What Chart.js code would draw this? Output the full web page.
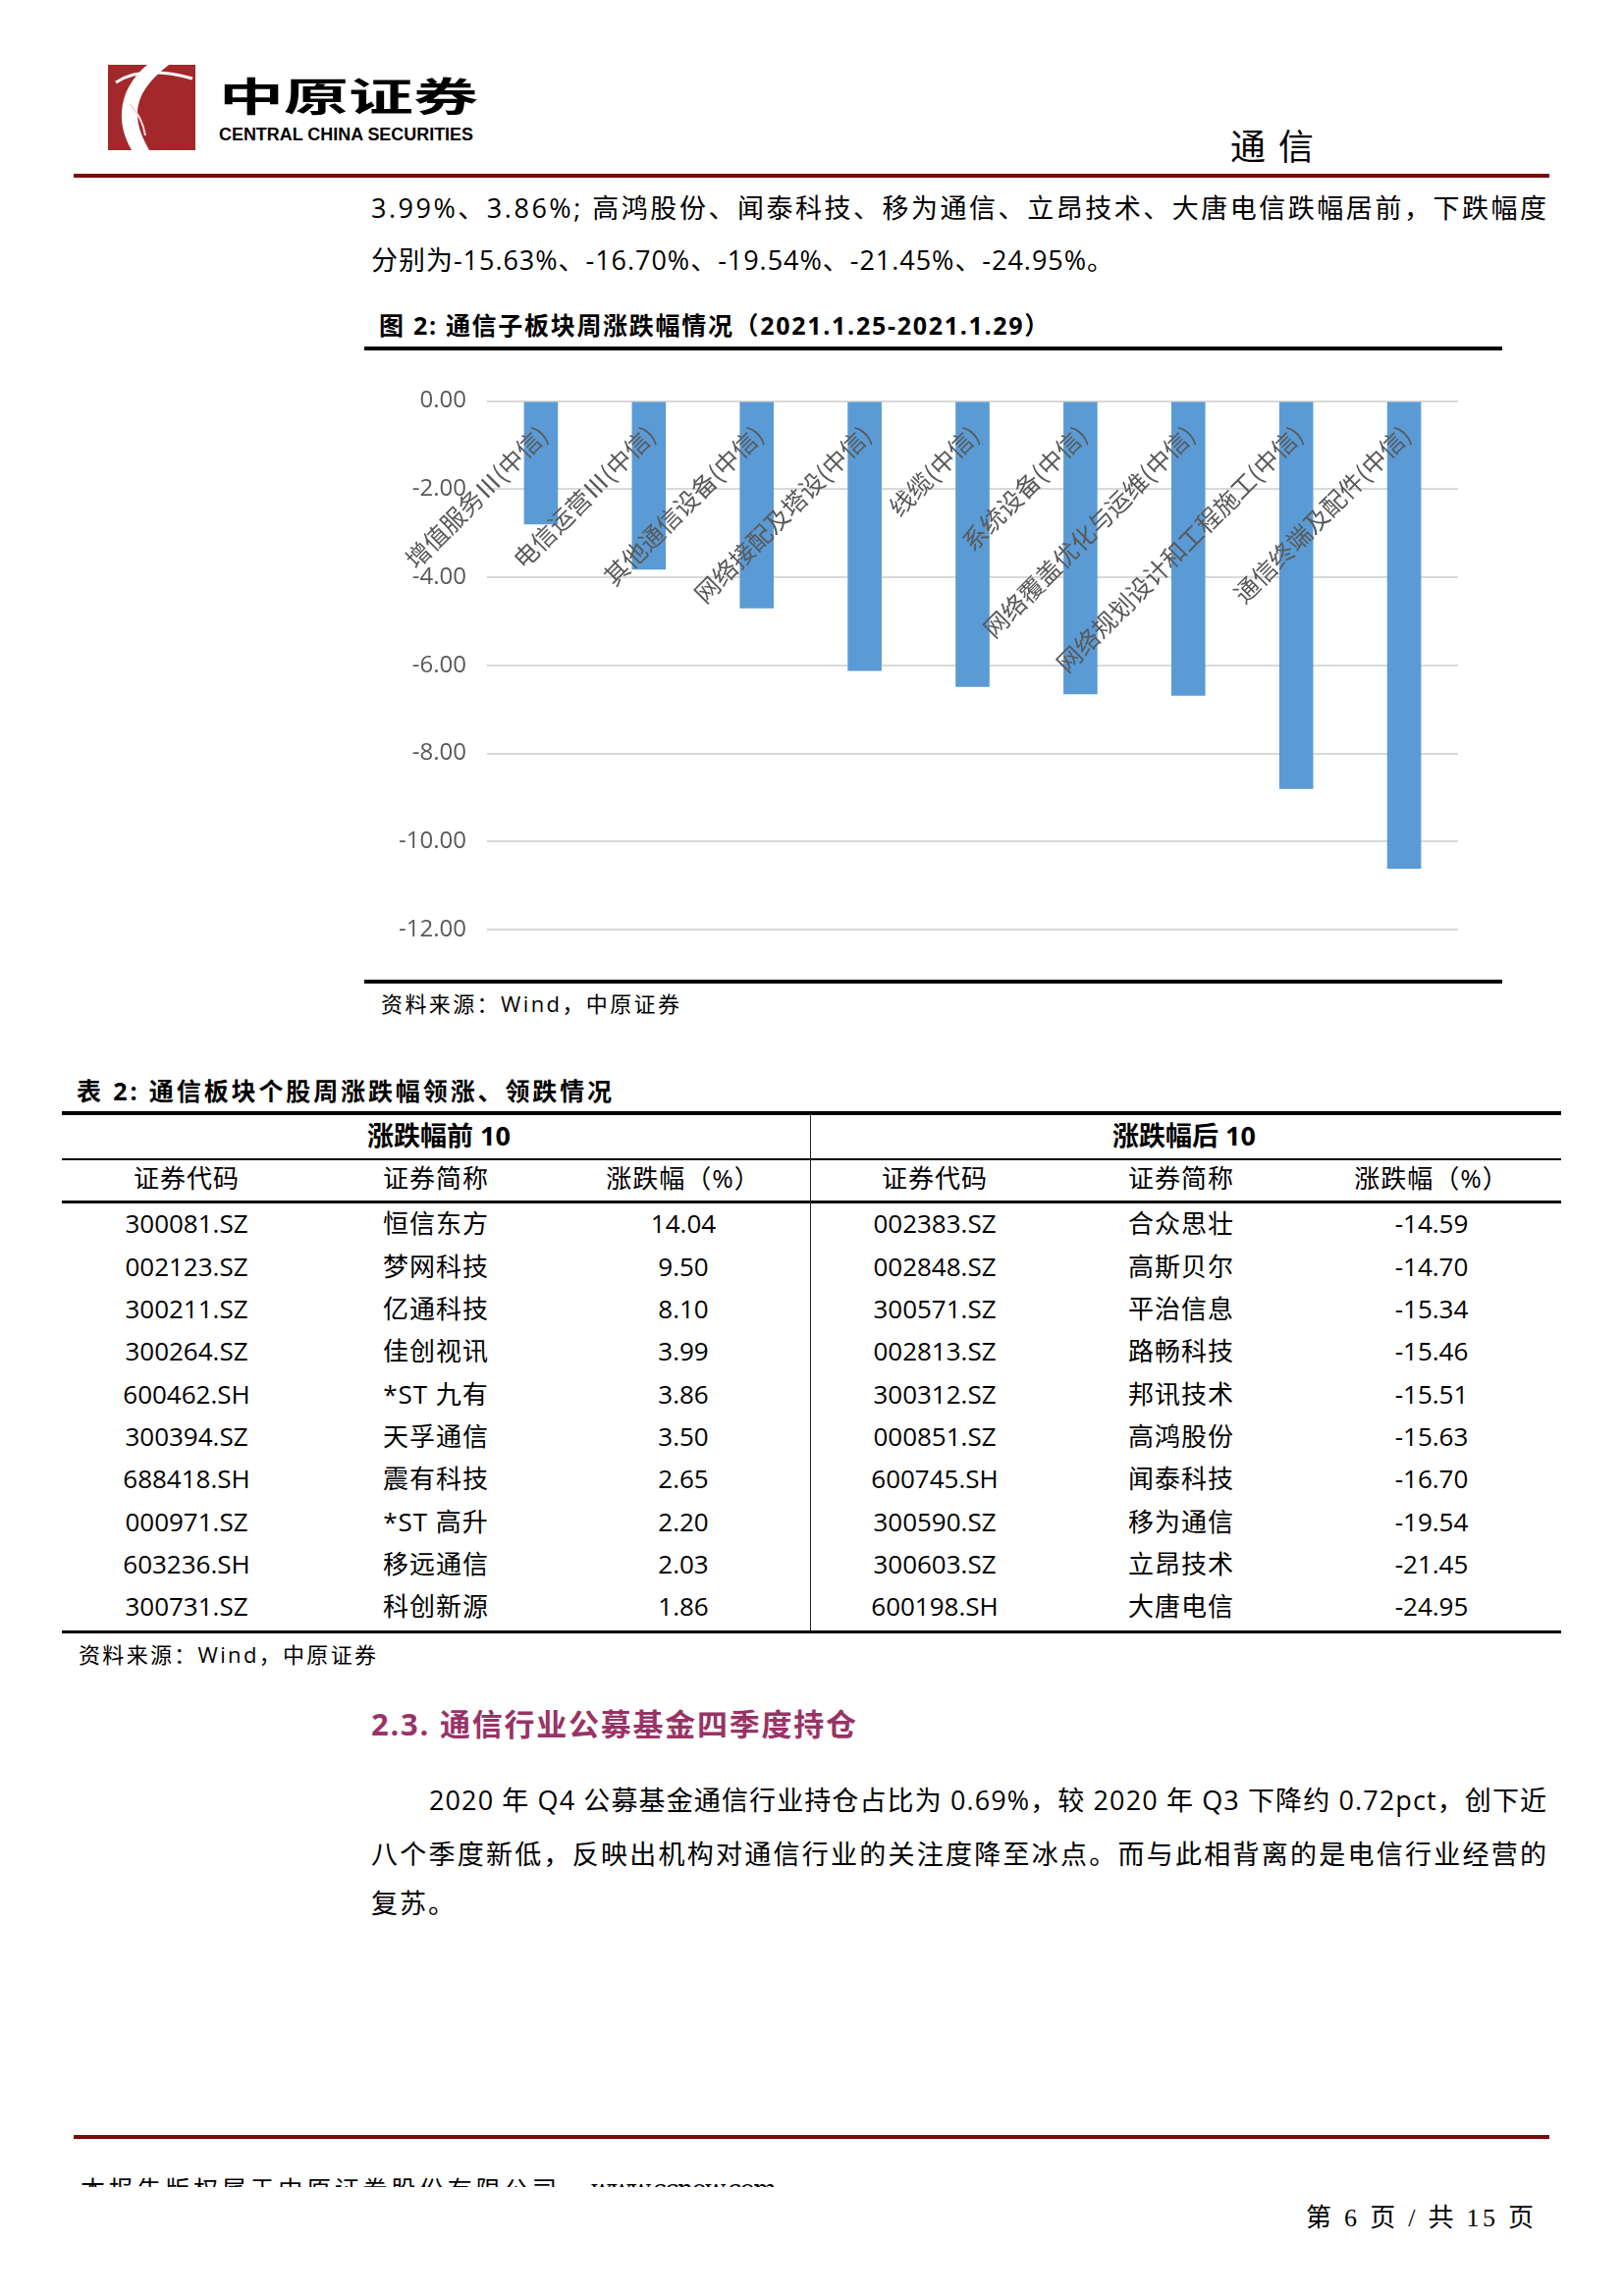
<!DOCTYPE html>
<html>
<head>
<meta charset="utf-8">
<script src="https://cdn.jsdelivr.net/npm/chart.js@4.4.1/dist/chart.umd.min.js"></script>
<style>
html,body{margin:0;padding:0;background:#fff;}
#page{position:relative;width:1654px;height:2339px;overflow:hidden;background:#fff;
  font-family:"Open Sans","Noto Sans CJK SC",sans-serif;color:#000;}
.t{position:absolute;white-space:nowrap;}
.r{position:absolute;}
#chartBox{position:absolute;left:373px;top:360px;width:1157px;height:635px;}
</style>
</head>
<body>
<div id="page">
  <svg class="r" style="left:110px;top:66px" width="89" height="87" viewBox="0 0 89 87">
    <rect x="0" y="0" width="89" height="87" fill="#a3282c"/>
    <path d="M40,0 L62,0 C44,14 30,30 30,50 C30,64 36,76 42,87 L24,87 C17,74 13,62 14,48 C15,30 24,13 40,0 Z" fill="#fff"/>
    <path d="M8,18 C26,6 50,4 86,14" stroke="#fff" stroke-width="3" fill="none"/>
    <path d="M22,40 C30,48 36,60 38,72" stroke="#f3dada" stroke-width="2" fill="none"/>
  </svg>
  <div class="r" style="left:75px;top:177px;width:1503px;height:4px;background:#7d0a0a"></div>
  <div class="r" style="left:371px;top:353px;width:1159px;height:4px;background:#000"></div>
  <div id="chartBox"><canvas id="c" width="1157" height="635"></canvas></div>
  <div class="r" style="left:371px;top:998px;width:1159px;height:4px;background:#000"></div>

  <div class="r" style="left:63px;top:1132px;width:1527px;height:4px;background:#000"></div>
  <div class="r" style="left:63px;top:1180px;width:1527px;height:2px;background:#000"></div>
  <div class="r" style="left:63px;top:1223px;width:1527px;height:3px;background:#000"></div>
  <div class="r" style="left:63px;top:1661px;width:1527px;height:3px;background:#000"></div>
  <div class="r" style="left:825px;top:1136px;width:1px;height:525px;background:#222"></div>

  <div class="r" style="left:75px;top:2175px;width:1503px;height:4px;background:#7d0a0a"></div>
  <div id="footClip" class="r" style="left:0;top:2210px;width:1654px;height:18px;overflow:hidden"></div>
</div>
<script>
// ---------- chart data ----------
const categories = ['增值服务Ⅲ(中信)','电信运营Ⅲ(中信)','其他通信设备(中信)','网络接配及塔设(中信)','线缆(中信)','系统设备(中信)','网络覆盖优化与运维(中信)','网络规划设计和工程施工(中信)','通信终端及配件(中信)'];
const weeklyChange = [-2.80,-3.83,-4.71,-6.13,-6.49,-6.66,-6.69,-8.81,-10.62];
const yAxisMin = -12;
const yAxisMax = 0;
const yAxisStep = 2;

// ---------- table data ----------
const topCodes = ['300081.SZ','002123.SZ','300211.SZ','300264.SZ','600462.SH','300394.SZ','688418.SH','000971.SZ','603236.SH','300731.SZ'];
const topNames = ['恒信东方','梦网科技','亿通科技','佳创视讯','*ST 九有','天孚通信','震有科技','*ST 高升','移远通信','科创新源'];
const topChanges = ['14.04','9.50','8.10','3.99','3.86','3.50','2.65','2.20','2.03','1.86'];
const bottomCodes = ['002383.SZ','002848.SZ','300571.SZ','002813.SZ','300312.SZ','000851.SZ','600745.SH','300590.SZ','300603.SZ','600198.SH'];
const bottomNames = ['合众思壮','高斯贝尔','平治信息','路畅科技','邦讯技术','高鸿股份','闻泰科技','移为通信','立昂技术','大唐电信'];
const bottomChanges = ['-14.59','-14.70','-15.34','-15.46','-15.51','-15.63','-16.70','-19.54','-21.45','-24.95'];
const tableHeaders = ['证券代码','证券简称','涨跌幅（%）'];

const page = document.getElementById('page');
function txt(s, x, cy, fs, o) {
  o = o || {};
  const d = document.createElement('div');
  d.className = 't';
  d.textContent = s;
  const lh = o.lh || Math.round(fs * 1.5);
  d.style.fontSize = fs + 'px';
  d.style.lineHeight = lh + 'px';
  if (o.weight) d.style.fontWeight = o.weight;
  if (o.color) d.style.color = o.color;
  if (o.family) d.style.fontFamily = o.family;
  if (o.ls) d.style.letterSpacing = o.ls + 'px';
  (o.parent || page).appendChild(d);
  let w = d.getBoundingClientRect().width;
  if (o.w) {
    const n = [...s].length;
    if (o.mode === 'scale') {
      d.style.transformOrigin = 'left center';
      d.style.transform = 'scaleX(' + (o.w / w) + ')';
    } else {
      d.style.letterSpacing = ((o.w - w) / Math.max(n - 1, 1) + (o.ls || 0)) + 'px';
    }
    w = o.w;
  }
  const top0 = o.parent ? parseFloat(o.parent.style.top) : 0;
  d.style.top = (cy - lh / 2 - fs * 0.04 - top0) + 'px';
  let left = x;
  if (o.align === 'center') left = x - w / 2;
  else if (o.align === 'right') left = x - w;
  d.style.left = left + 'px';
  return d;
}

// header
txt('中原证券', 223, 98, 40, {weight: 700, w: 264, mode: 'scale', lh: 40, family: '"Noto Sans CJK SC"'});
txt('CENTRAL CHINA SECURITIES', 223, 138, 18, {weight: 700, w: 259, mode: 'scale', lh: 18, family: '"Liberation Sans"'});
txt('通信', 1253, 148, 36, {w: 85, family: '"Noto Sans CJK SC"'});

// body top
txt('3.99%、3.86%; 高鸿股份、闻泰科技、移为通信、立昂技术、大唐电信跌幅居前，下跌幅度', 378, 213, 27, {w: 1197});
txt('分别为-15.63%、-16.70%、-19.54%、-21.45%、-24.95%。', 378, 266, 27, {w: 756});

// figure title & source
txt('图 2:  通信子板块周涨跌幅情况（2021.1.25-2021.1.29）', 386, 332, 25, {weight: 700, w: 684});
txt('资料来源：Wind，中原证券', 388, 1023, 22, {w: 304});

// table
txt('表 2:  通信板块个股周涨跌幅领涨、领跌情况', 78, 1112, 25, {weight: 700, w: 548});
txt('涨跌幅前 10', 447, 1158, 27, {weight: 700, align: 'center'});
txt('涨跌幅后 10', 1206, 1158, 27, {weight: 700, align: 'center'});
const leftCols = [190, 444, 696];
const rightCols = [952, 1203, 1458];
tableHeaders.forEach((h, j) => {
  txt(h, leftCols[j], 1202, 26, {align: 'center', ls: 1});
  txt(h, rightCols[j], 1202, 26, {align: 'center', ls: 1});
});
for (let i = 0; i < topCodes.length; i++) {
  const cy = 1248 + i * 43.33;
  txt(topCodes[i], leftCols[0], cy, 26, {align: 'center'});
  txt(topNames[i], leftCols[1], cy, 26, {align: 'center', ls: 1});
  txt(topChanges[i], leftCols[2], cy, 26, {align: 'center'});
  txt(bottomCodes[i], rightCols[0], cy, 26, {align: 'center'});
  txt(bottomNames[i], rightCols[1], cy, 26, {align: 'center', ls: 1});
  txt(bottomChanges[i], rightCols[2], cy, 26, {align: 'center'});
}
txt('资料来源：Wind，中原证券', 80, 1686, 22, {w: 303});

// section
txt('2.3. 通信行业公募基金四季度持仓', 378, 1758, 31, {weight: 700, color: '#993366', w: 494});
txt('2020 年 Q4 公募基金通信行业持仓占比为 0.69%，较 2020 年 Q3 下降约 0.72pct，创下近', 437, 1835, 27, {w: 1138});
txt('八个季度新低，反映出机构对通信行业的关注度降至冰点。而与此相背离的是电信行业经营的', 378, 1890, 27, {w: 1197});
txt('复苏。', 378, 1940, 27, {ls: 2});

// footer
const fc = document.getElementById('footClip');
txt('本报告版权属于中原证券股份有限公司', 82, 2231, 25, {w: 485, parent: fc});
txt('www.ccnew.com', 602, 2231, 25, {w: 189, parent: fc, family: '"DejaVu Serif"'});
txt('第 6 页 / 共 15 页', 1330, 2261, 26, {w: 232, family: '"Liberation Serif","Noto Sans CJK SC"'});

// ---------- chart ----------
const catLabelPlugin = {
  id: 'catLabels',
  afterDatasetsDraw(chart) {
    const ctx = chart.ctx;
    const xs = chart.scales.x, ys = chart.scales.y;
    const y0 = ys.getPixelForValue(0);
    ctx.save();
    ctx.font = '25px "Noto Sans CJK SC"';
    ctx.fillStyle = '#595959';
    ctx.textAlign = 'right';
    ctx.textBaseline = 'middle';
    xs.getLabels().forEach((lab, i) => {
      const px = xs.getPixelForValue(i);
      ctx.save();
      ctx.translate(px + 2, y0 + 30);
      ctx.rotate(-Math.PI / 4);
      ctx.fillText(lab, 0, 0);
      ctx.restore();
    });
    ctx.restore();
  }
};

new Chart(document.getElementById('c'), {
  type: 'bar',
  data: {
    labels: categories,
    datasets: [{
      data: weeklyChange,
      backgroundColor: '#5b9bd5',
      borderWidth: 0,
      barPercentage: 0.315,
      categoryPercentage: 1.0
    }]
  },
  options: {
    responsive: false,
    animation: false,
    devicePixelRatio: 1,
    layout: {padding: {top: 48.5, right: 45, bottom: 48, left: 0}},
    plugins: {legend: {display: false}, tooltip: {enabled: false}},
    events: [],
    scales: {
      x: {display: false},
      y: {
        min: yAxisMin,
        max: yAxisMax,
        border: {display: false},
        grid: {color: '#d9d9d9', lineWidth: 2, drawTicks: false},
        ticks: {
          stepSize: yAxisStep,
          padding: 21,
          color: '#595959',
          font: {family: '"Open Sans"', size: 24},
          callback: v => Number(v).toFixed(2)
        },
        afterFit: s => { s.width = 123; }
      }
    }
  },
  plugins: [catLabelPlugin]
});
</script>
</body>
</html>
